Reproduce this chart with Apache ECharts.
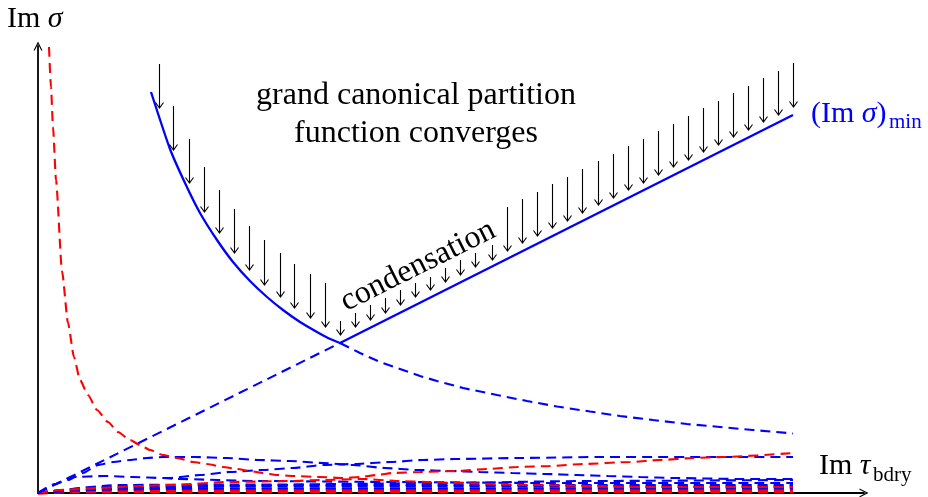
<!DOCTYPE html>
<html><head><meta charset="utf-8">
<script src="https://cdn.jsdelivr.net/npm/echarts@6/dist/echarts.min.js"></script>
<style>html,body{margin:0;padding:0;background:#fff}#c{width:928px;height:497px}</style>
</head><body><div id="c"></div>
<script>
// ---- data (x = Im tau_bdry, y = Im sigma; arbitrary units) ----
const minLineDashed = [[0,0],[3.02,1.50]];
const minLineSolid  = [[3.02,1.50],[7.55,3.78]];
const minHypSolid = [[1.13,4.01],[1.32,3.44],[1.47,3.10],[1.62,2.80],[1.79,2.53],[1.95,2.31],[2.12,2.12],[2.29,1.96],[2.45,1.83],[2.62,1.71],[2.79,1.61],[2.90,1.55],[3.02,1.50]];
const minHypDashed = [[3.02,1.50],[3.22,1.40],[3.42,1.31],[3.62,1.24],[3.82,1.17],[3.99,1.12],[4.25,1.05],[4.59,0.98],[4.89,0.92],[5.19,0.865],[5.52,0.815],[5.82,0.77],[6.15,0.73],[6.49,0.69],[6.82,0.66],[7.15,0.63],[7.55,0.595]];
const redTop = [[0.11,4.46],[0.13,4.06],[0.15,3.66],[0.18,3.13],[0.24,2.22],[0.30,1.70],[0.36,1.36],[0.42,1.13],[0.50,0.98],[0.59,0.83],[0.70,0.71],[0.80,0.61],[0.92,0.53],[1.02,0.48],[1.12,0.43],[1.25,0.38],[1.39,0.35],[1.55,0.31],[1.69,0.29],[1.85,0.26],[1.99,0.24],[2.12,0.22],[2.25,0.20],[2.39,0.18],[2.55,0.17],[2.82,0.16],[3.05,0.15],[3.22,0.16],[3.39,0.18],[3.55,0.20],[3.82,0.21],[4.19,0.22],[4.49,0.24],[4.79,0.26],[5.12,0.27],[5.45,0.29],[5.92,0.31],[6.22,0.33],[6.55,0.35],[6.85,0.36],[7.55,0.40]];
const redSecond = [[0,0],[0.22,0.03],[0.62,0.05],[1.02,0.07],[1.32,0.08],[1.92,0.11],[2.55,0.12],[2.82,0.13],[3.25,0.14],[3.59,0.12],[3.92,0.11],[4.19,0.10],[4.89,0.08],[5.52,0.07],[6.05,0.06],[7.55,0.06]];
const redLow1 = [[0,0],[0.5,0.035],[2.0,0.04],[4.0,0.04],[7.55,0.04]];
const redLow2 = [[0,0],[0.3,0.015],[2.0,0.018],[4.0,0.018],[7.55,0.018]];
const blueD2 = [[0,0],[0.30,0.13],[0.45,0.20],[0.60,0.28],[0.75,0.31],[0.92,0.33],[1.09,0.35],[1.25,0.36],[1.57,0.36],[1.89,0.35],[2.20,0.33],[2.52,0.32],[2.85,0.30],[3.15,0.28],[3.47,0.25],[3.79,0.23],[4.12,0.22],[4.42,0.21],[4.74,0.20],[5.07,0.19],[5.39,0.18],[5.70,0.17],[6.02,0.16],[6.34,0.15],[6.99,0.14],[7.55,0.14]];
const blueA2 = [[1.25,0.15],[1.32,0.15],[1.62,0.18],[1.92,0.21],[2.25,0.23],[2.55,0.25],[2.85,0.28],[3.17,0.29],[3.52,0.31],[3.85,0.33],[4.17,0.34],[4.80,0.35],[5.59,0.36],[7.55,0.36]];
const blueC3 = [[0,0],[0.17,0.09],[0.35,0.16],[0.67,0.17],[0.95,0.16],[1.25,0.15],[1.39,0.14],[2.2,0.12],[3.5,0.11],[5.0,0.10],[7.55,0.10]];
const blueA3 = [[0,0],[1.0,0.05],[2.0,0.07],[3.0,0.09],[4.0,0.10],[5.5,0.12],[7.55,0.13]];
const blueB4 = [[0,0],[0.6,0.06],[2.0,0.07],[4.0,0.07],[7.55,0.065]];
const blueB5 = [[0,0],[0.8,0.08],[2.0,0.085],[4.0,0.08],[7.55,0.08]];
const blueB6 = [[0,0],[0.4,0.035],[2.0,0.045],[4.0,0.045],[7.55,0.045]];
// arrows: [x, y of tail, y of tip]
const arrows = [
 [1.21,4.29,3.85],[1.35,3.87,3.43],[1.51,3.54,3.10],[1.66,3.26,2.81],[1.81,3.03,2.60],[1.96,2.84,2.40],
 [2.11,2.67,2.23],[2.26,2.53,2.08],[2.42,2.40,1.96],[2.56,2.29,1.85],[2.72,2.19,1.75],[2.87,2.10,1.66],
 [3.02,1.72,1.58],[3.17,1.80,1.66],[3.32,1.88,1.73],[3.47,1.95,1.80],[3.62,2.03,1.88],[3.77,2.10,1.96],
 [3.92,2.16,2.03],[4.07,2.25,2.11],[4.22,2.33,2.18],[4.37,2.40,2.26],[4.54,2.48,2.33],
 [4.69,2.86,2.42],[4.84,2.94,2.50],[4.99,3.01,2.57],[5.14,3.09,2.65],[5.29,3.16,2.72],[5.44,3.24,2.80],
 [5.60,3.32,2.88],[5.75,3.39,2.95],[5.90,3.47,3.03],[6.05,3.54,3.10],[6.20,3.62,3.18],[6.35,3.69,3.26],
 [6.50,3.77,3.33],[6.65,3.85,3.41],[6.80,3.92,3.48],[6.95,4.00,3.56],[7.10,4.07,3.63],[7.25,4.15,3.71],
 [7.40,4.22,3.78],[7.55,4.30,3.86]
];
const texts = {
  yName: 'Im ', yVar: 'σ', xName: 'Im ', xVar: 'τ', xSub: 'bdry',
  minLabel: '(Im ', minVar: 'σ', minClose: ')', minSub: 'min',
  line1: 'grand canonical partition', line2: 'function converges', cond: 'condensation'
};

// ---- chart ----
const FONT = '"Liberation Serif", "DejaVu Serif", serif';
const BLUE = '#0000ff', RED = '#ff0000';
const DASH = [10, 6];
function dashed(data, color, width, smooth) {
  return {type:'line', data, showSymbol:false, smooth:(smooth === undefined ? 0.2 : smooth), smoothMonotone:'x', silent:true,
    lineStyle:{color, width: width || 2.1, type: DASH}, z:2};
}
const chart = echarts.init(document.getElementById('c'), null, {renderer:'canvas'});
const axisArrow = 'path://M0,10 L5,0 L10,10 L8.6,10 L5,2.8 L1.4,10 Z';
chart.setOption({
  animation:false,
  backgroundColor:'#fff',
  grid:{left:38, right:64, top:46, bottom:4, containLabel:false},
  xAxis:{type:'value', min:0, max:8.26,
    axisLine:{show:true, onZero:false, symbol:['none', axisArrow], symbolSize:[13,9], lineStyle:{color:'#000', width:1.8}},
    axisTick:{show:false}, axisLabel:{show:false}, splitLine:{show:false}},
  yAxis:{type:'value', min:0, max:4.47,
    axisLine:{show:true, onZero:false, symbol:['none', axisArrow], symbolSize:[13,9], lineStyle:{color:'#000', width:1.8}},
    axisTick:{show:false}, axisLabel:{show:false}, splitLine:{show:false}},
  series:[
    dashed(redLow2, RED, 3.6),
    dashed(redLow1, RED, 3.6),
    dashed(blueB6, BLUE),
    dashed(blueB4, BLUE),
    dashed(blueB5, BLUE),
    dashed(blueA3, BLUE),
    dashed(blueC3, BLUE),
    dashed(redSecond, RED),
    dashed(blueA2, BLUE),
    dashed(blueD2, BLUE),
    dashed(redTop, RED),
    dashed(minLineDashed, BLUE),
    dashed(minHypDashed, BLUE, 2.1, false),
    {type:'line', data:minHypSolid, showSymbol:false, smooth:0.2, silent:true, lineStyle:{color:BLUE, width:2.3}, z:3},
    {type:'line', data:minLineSolid, showSymbol:false, silent:true, lineStyle:{color:BLUE, width:2.3}, z:3},
    {type:'custom', data:arrows, silent:true, clip:false, z:4,
      encode:{x:0, y:[1,2]},
      renderItem(params, api){
        const a = api.coord([api.value(0), api.value(1)]);
        const b = api.coord([api.value(0), api.value(2)]);
        const x = Math.round(b[0]) + 0.5;
        return {type:'group', children:[
          {type:'line', shape:{x1:x, y1:a[1], x2:x, y2:b[1]}, style:{stroke:'#000', lineWidth:1.1}},
          {type:'polyline', shape:{points:[[x-4, b[1]-5.5], [x, b[1]], [x+4, b[1]-5.5]]}, style:{stroke:'#000', lineWidth:1.1, fill:null}}
        ]};
      }
    }
  ],
  graphic:[
    {type:'text', left:7, top:4, style:{text:'{r|'+texts.yName+'}{i|'+texts.yVar+'}', rich:{
      r:{fontFamily:FONT, fontSize:30, fill:'#000'}, i:{fontFamily:FONT, fontSize:30, fontStyle:'italic', fill:'#000'}}}},
    {type:'text', left:819, top:451, style:{text:'{r|'+texts.xName+'}{i|'+texts.xVar+'}', rich:{
      r:{fontFamily:FONT, fontSize:30, fill:'#000'}, i:{fontFamily:FONT, fontSize:30, fontStyle:'italic', fill:'#000'}}}},
    {type:'text', left:873, top:465, style:{text:texts.xSub, fontFamily:FONT, fontSize:21, fill:'#000'}},
    {type:'text', left:811, top:99, style:{text:'{r|'+texts.minLabel+'}{i|'+texts.minVar+'}{r|'+texts.minClose+'}', rich:{
      r:{fontFamily:FONT, fontSize:30, fill:BLUE}, i:{fontFamily:FONT, fontSize:30, fontStyle:'italic', fill:BLUE}}}},
    {type:'text', left:889, top:112, style:{text:texts.minSub, fontFamily:FONT, fontSize:21, fill:BLUE}},
    {type:'text', x:416, y:96, style:{text:texts.line1, fontFamily:FONT, fontSize:32, fill:'#000', align:'center', verticalAlign:'middle'}},
    {type:'text', x:416, y:134, style:{text:texts.line2, fontFamily:FONT, fontSize:32, fill:'#000', align:'center', verticalAlign:'middle'}},
    {type:'text', x:418, y:266, rotation:Math.atan(0.5), style:{text:texts.cond, fontFamily:FONT, fontSize:32, fill:'#000', align:'center', verticalAlign:'middle'}}
  ]
});
</script></body></html>
